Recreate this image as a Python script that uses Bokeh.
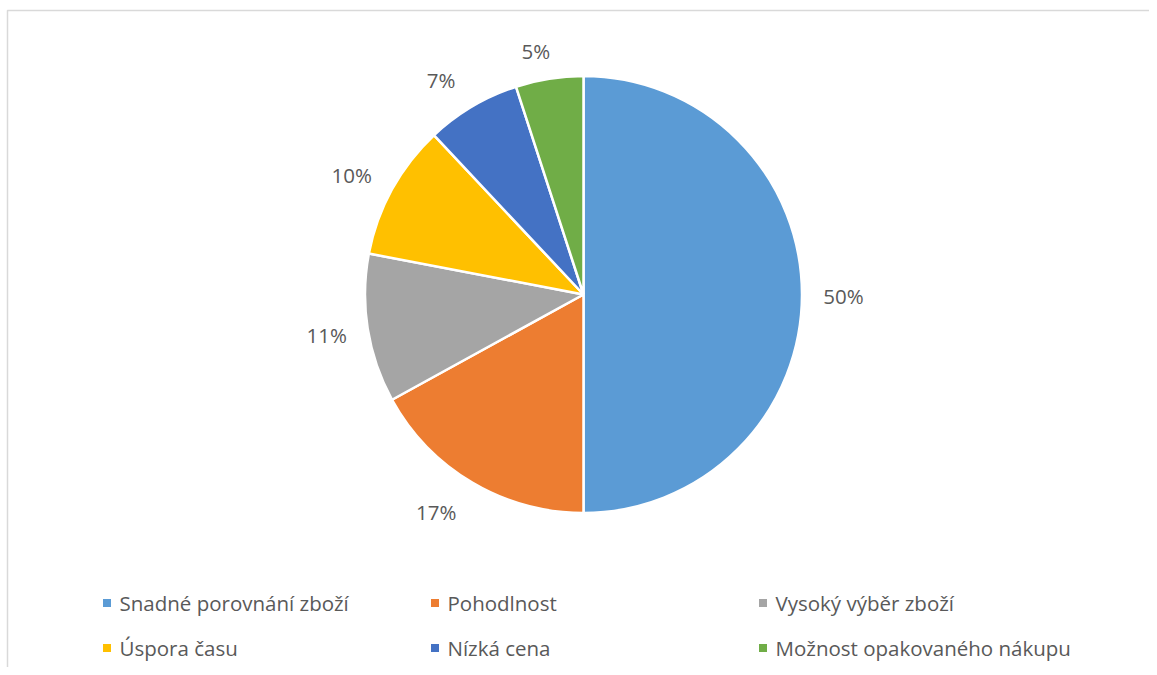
import math
from bokeh.plotting import figure
from bokeh.models import Range1d, ColumnDataSource
from bokeh.core.properties import value
from bokeh.embed import file_html
from bokeh.resources import INLINE

# ---- data ----
categories = ["Snadné porovnání zboží", "Pohodlnost", "Vysoký výběr zboží",
              "Úspora času", "Nízká cena", "Možnost opakovaného nákupu"]
shares = [50, 17, 11, 10, 7, 5]
labels = ["50%", "17%", "11%", "10%", "7%", "5%"]
colors = ["#5B9BD5", "#ED7D31", "#A5A5A5", "#FFC000", "#4472C4", "#70AD47"]

# ---- layout (screen px, y down) ----
W, H = 1149, 667
CX, CY = 583, 294
R = 218.5
LABEL_R = 260
label_nudge = [(0, 1), (-15, -6), (0, 0), (-4, 6), (-10, 9), (-7, 13)]
FONT = "Open Sans"
FS = "20.5px"
TXT = "#595959"

def to_data(sx, sy):
    return sx, H - sy

p = figure(width=W, height=H, output_backend="svg", toolbar_location=None,
           x_range=Range1d(0, W), y_range=Range1d(0, H), min_border=0,
           outline_line_color=None)
p.axis.visible = False
p.grid.visible = False
p.background_fill_color = "white"
p.border_fill_color = "white"

# chart frame (top + left edge)
fx0, fy0 = to_data(7, H)
fx1, fy1 = to_data(7, 10)
fx2, fy2 = to_data(W, 10)
p.line(x=[fx0, fx1, fx2], y=[fy0, fy1, fy2], line_color="#D9D9D9", line_width=1.5)

# wedges
total = sum(shares)
cum = 0.0
starts, ends, mids = [], [], []
for s in shares:
    a0 = math.pi / 2 - 2 * math.pi * cum / total
    cum += s
    a1 = math.pi / 2 - 2 * math.pi * cum / total
    starts.append(a0)
    ends.append(a1)
    mids.append((a0 + a1) / 2)

cx, cy = to_data(CX, CY)
src = ColumnDataSource(dict(start=starts, end=ends, color=colors))
p.wedge(x=cx, y=cy, radius=R, radius_units="screen", start_angle="start",
        end_angle="end", direction="clock", fill_color="color",
        line_color="white", line_width=2.5, source=src)

# data labels
lx, ly = [], []
for m, (nx, ny) in zip(mids, label_nudge):
    sx = CX + LABEL_R * math.cos(m) + nx
    sy = CY - LABEL_R * math.sin(m) + ny
    dx, dy = to_data(sx, sy)
    lx.append(dx)
    ly.append(dy)
p.text(x=lx, y=ly, text=labels, text_font=value(FONT), text_font_size=FS,
       text_color=TXT, text_align="center", text_baseline="middle")

# legend (3 columns x 2 rows)
mx, my, tx = [], [], []
for i in range(len(categories)):
    col, row = i % 3, i // 3
    sx = 106.5 + col * 328
    sy = 602.5 + row * 45
    dx, dy = to_data(sx, sy)
    mx.append(dx)
    my.append(dy)
    tx.append(dx + 12.5)
p.scatter(x=mx, y=my, marker="square", size=8, fill_color=colors, line_color=None)
p.text(x=tx, y=my, text=categories, text_font=value(FONT), text_font_size=FS,
       text_color=TXT, text_align="left", text_baseline="middle")

open("out.html", "w").write(file_html(p, INLINE))
